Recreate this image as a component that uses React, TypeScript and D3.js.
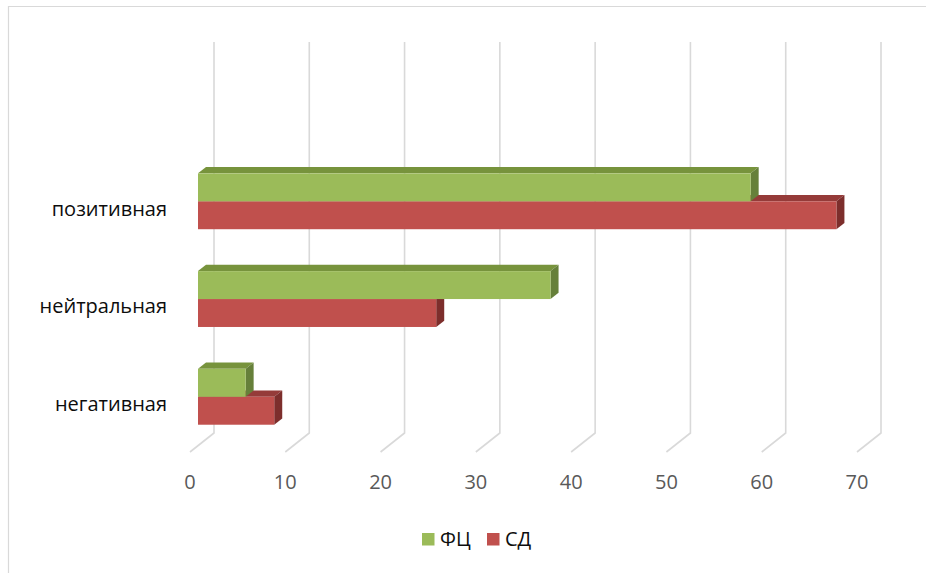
import React from 'react';
import * as d3 from 'd3';

const categories = ['негативная', 'нейтральная', 'позитивная'];
const seriesNames = ['ФЦ', 'СД'];
const fcValues = [5, 37, 58];
const sdValues = [8, 25, 67];
const xTicks = [0, 10, 20, 30, 40, 50, 60, 70];

const palette: Record<string, { front: string; top: string; side: string }> = {
  ФЦ: { front: '#9BBB59', top: '#77933C', side: '#66803A' },
  СД: { front: '#C0504D', top: '#953B39', side: '#7D2E2C' },
};

const W = 926;
const H = 573;
// oblique depth of the whole plot (front plane -> back wall)
const depth = { dx: 24, dy: -19 };
const plot = { left: 190, right: 857, top: 61, bottom: 452 };
const font = "'Open Sans', 'DejaVu Sans', sans-serif";

const App: React.FC = () => {
  const x = d3.scaleLinear().domain([0, 70]).range([plot.left, plot.right]);
  // one empty slot above the categories, as in the source workbook layout
  const y = d3
    .scaleBand<number>()
    .domain(d3.range(categories.length + 1))
    .range([plot.bottom, plot.top]);
  const groupH = y.bandwidth() / 1.75; // gap width 75%
  const inner = d3.scaleBand<string>().domain(seriesNames).range([0, groupH]);

  const valuesBy: Record<string, number[]> = { ФЦ: fcValues, СД: sdValues };

  // bars occupy the middle third of the depth
  const d1 = { dx: depth.dx / 3, dy: depth.dy / 3 };
  const d2 = { dx: (depth.dx * 2) / 3, dy: (depth.dy * 2) / 3 };

  const bars: React.ReactNode[] = [];
  categories.forEach((_, i) => {
    const groupTop = (y(i) as number) + (y.bandwidth() - groupH) / 2;
    // draw lower series first so upper one overlaps it
    [...seriesNames].reverse().forEach((name) => {
      const v = valuesBy[name][i];
      const c = palette[name];
      const y0 = groupTop + (inner(name) as number);
      const y1 = y0 + inner.bandwidth();
      const xa = x(0);
      const xb = x(v);
      const p = (px: number, py: number, o: { dx: number; dy: number }) =>
        `${px + o.dx},${py + o.dy}`;
      bars.push(
        <g key={`${name}-${i}`}>
          <polygon
            points={[p(xa, y0, d1), p(xb, y0, d1), p(xb, y0, d2), p(xa, y0, d2)].join(' ')}
            fill={c.top}
          />
          <polygon
            points={[p(xb, y0, d1), p(xb, y0, d2), p(xb, y1, d2), p(xb, y1, d1)].join(' ')}
            fill={c.side}
          />
          <rect
            x={xa + d1.dx}
            y={y0 + d1.dy}
            width={xb - xa}
            height={y1 - y0}
            fill={c.front}
          />
        </g>
      );
    });
  });

  return (
    <svg
      width={W}
      height={H}
      style={{ position: 'absolute', left: 0, top: 0, background: '#fff' }}
    >
      <line x1={8.5} y1={6} x2={8.5} y2={H} stroke="#d9d9d9" strokeWidth={1.2} />
      <line x1={8} y1={6.5} x2={W} y2={6.5} stroke="#d9d9d9" strokeWidth={1.2} />

      {xTicks.map((t) => (
        <polyline
          key={t}
          points={`${x(t) + depth.dx},${plot.top + depth.dy} ${x(t) + depth.dx},${
            plot.bottom + depth.dy
          } ${x(t)},${plot.bottom}`}
          fill="none"
          stroke="#d9d9d9"
          strokeWidth={1.6}
        />
      ))}

      {bars}

      {xTicks.map((t) => (
        <text
          key={t}
          x={x(t)}
          y={489}
          textAnchor="middle"
          fontFamily={font}
          fontSize={20}
          fill="#595959"
        >
          {t}
        </text>
      ))}

      {categories.map((c, i) => (
        <text
          key={c}
          x={167}
          y={(y(i) as number) + y.bandwidth() / 2 + 8}
          textAnchor="end"
          fontFamily={font}
          fontSize={20}
          fill="#0d0d0d"
        >
          {c}
        </text>
      ))}

      {seriesNames.map((name, i) => {
        const lx = 422 + i * 65;
        return (
          <g key={name}>
            <rect x={lx} y={533} width={12.5} height={12.5} fill={palette[name].front} />
            <text x={lx + 18} y={546} fontFamily={font} fontSize={20} fill="#0d0d0d">
              {name}
            </text>
          </g>
        );
      })}
    </svg>
  );
};

export default App;
